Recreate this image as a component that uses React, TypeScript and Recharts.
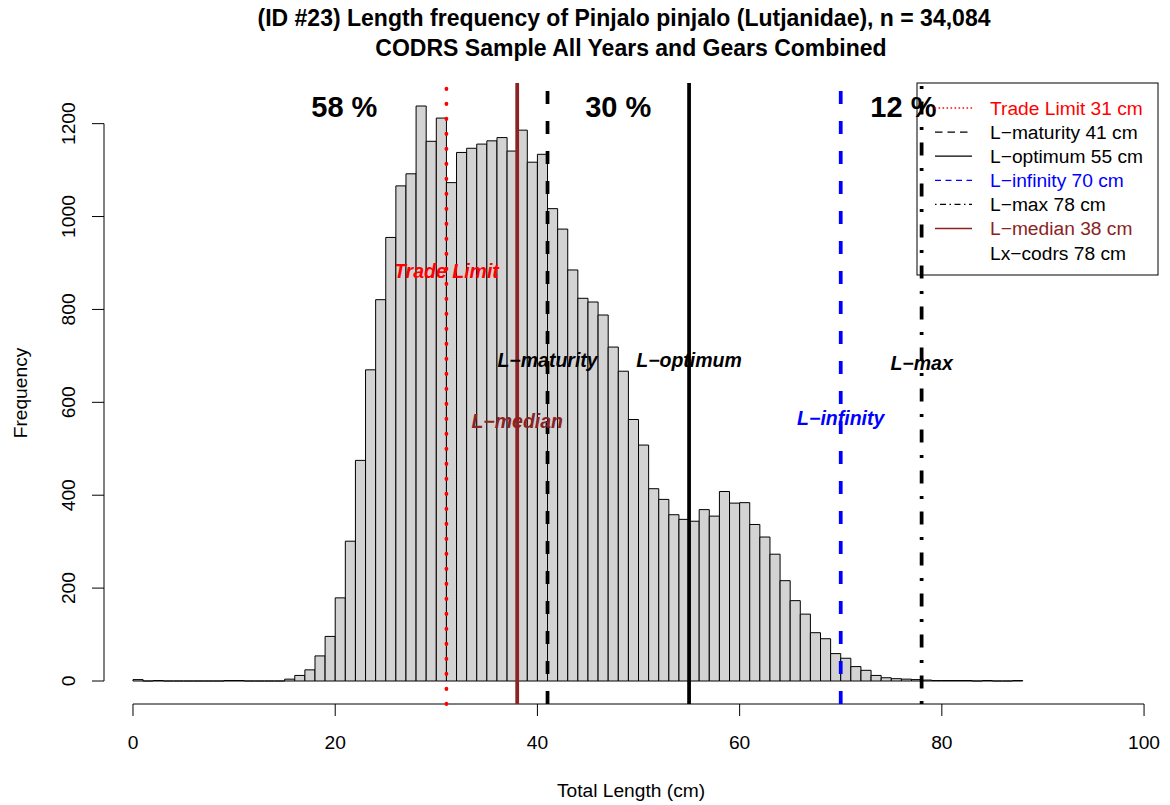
import React from 'react'
import { ComposedChart, Bar, XAxis, YAxis, ReferenceLine, ReferenceDot } from 'recharts'

const FONT = '"Liberation Sans", Arial, Helvetica, sans-serif'

// counts per 1 cm bin, bins start at 0 cm
const COUNTS = [
  3, 0, 1, 0, 0, 0, 0, 0, 0, 1,
  1, 0, 0, 0, 0, 4, 12, 24, 54, 96,
  179, 301, 475, 670, 821, 955, 1066, 1092, 1238, 1162,
  1212, 1073, 1138, 1147, 1156, 1163, 1170, 1141, 1186, 1117,
  1134, 1017, 973, 885, 824, 816, 788, 719, 667, 563,
  508, 414, 391, 358, 348, 344, 369, 355, 408, 383,
  384, 337, 310, 273, 216, 173, 144, 104, 91, 59,
  49, 31, 23, 12, 7, 5, 4, 3, 2, 1,
  1, 1, 1, 0, 1, 0, 0, 1,
]
const X_TICKS = [0, 20, 40, 60, 80, 100]
const Y_TICKS = [0, 200, 400, 600, 800, 1000, 1200]

// reference lengths (cm) and their plot labels
const MARK_NAMES = ['Trade Limit', 'L−maturity', 'L−optimum', 'L−infinity', 'L−max', 'L−median']
const MARK_CM = [31, 41, 55, 70, 78, 38]
const MARK_LABEL_Y = [882, 691, 691, 566, 685, 560]
const LEGEND_TEXT = [
  'Trade Limit 31 cm', 'L−maturity 41 cm', 'L−optimum 55 cm', 'L−infinity 70 cm',
  'L−max 78 cm', 'L−median 38 cm', 'Lx−codrs 78 cm',
]
const PCT_TEXT = ['58 %', '30 %', '12 %']
const PCT_AT = [20.9, 48, 76.2]

const RED = '#ff0000'
const BLUE = '#0000ff'
const BROWN = '#8b2323'

// line styles, same order as MARK_CM
const MARK_STYLE = [
  { color: RED, dash: '0.5 14.5', cap: 'round', legendDash: '0.6 3.4', legendCap: 'round' },
  { color: '#000', dash: '13 17', cap: 'butt', legendDash: '7.5 5', legendCap: 'butt' },
  { color: '#000', dash: undefined, cap: 'butt', legendDash: undefined, legendCap: 'butt' },
  { color: BLUE, dash: '13 17', cap: 'butt', legendDash: '6 4.5', legendCap: 'butt' },
  { color: '#000', dash: '3 12.5 13 12.5', cap: 'butt', legendDash: '1.5 3.5 6 3.5', legendCap: 'butt' },
  { color: BROWN, dash: undefined, cap: 'butt', legendDash: undefined, legendCap: 'butt' },
]
const LEGEND_COLOR = [RED, '#000', '#000', BLUE, '#000', BROWN, '#000']

const bins = COUNTS.map((n, i) => ({ mid: i + 0.5, n }))
const maxCount = Math.max(...COUNTS)
// R-style 4% padding on the y range
const Y_DOMAIN = [-0.04 * maxCount, 1.04 * maxCount]
const X_DOMAIN = [-2.868, 101.38]

function HistBar(props: any) {
  const { x, y, width, height } = props
  const top = Math.min(y, y + height)
  const bot = Math.max(y, y + height)
  return (
    <path d={`M${x},${bot}V${top}H${x + width}V${bot}Z`} fill="#d3d3d3" stroke="#000" strokeWidth={1} />
  )
}

function XTick(props: any) {
  return (
    <text x={props.x} y={748.5} textAnchor="middle" fontSize={19.2} fontFamily={FONT} fill="#000">
      {props.payload.value}
    </text>
  )
}

function YTick(props: any) {
  const y = props.y
  return (
    <text x={75} y={y} transform={`rotate(-90, 75, ${y})`} textAnchor="middle" fontSize={19.2} fontFamily={FONT} fill="#000">
      {props.payload.value}
    </text>
  )
}

function textDot(label: string, color: string, size: number, italic: boolean) {
  return (p: any) => (
    <text x={p.cx} y={p.cy} dy="0.36em" textAnchor="middle" fontSize={size} fontWeight="bold"
      fontStyle={italic ? 'italic' : 'normal'} fontFamily={FONT} fill={color}>
      {label}
    </text>
  )
}

export default function App() {
  const legendTop = 83
  const rowY = (i: number) => 108 + i * 24.1
  return (
    <div style={{ position: 'absolute', left: 0, top: 0, width: 1170, height: 805, background: '#fff' }}>
      <ComposedChart width={1170} height={805} data={bins} margin={{ top: 83, right: 12, bottom: 0, left: 0 }}>
        <XAxis
          dataKey="mid" type="number" domain={X_DOMAIN} allowDataOverflow ticks={X_TICKS}
          axisLine={false} tickLine={{ stroke: '#000', strokeWidth: 1 }} tickSize={12}
          height={101} tick={<XTick />} interval={0}
        />
        <YAxis
          type="number" domain={Y_DOMAIN} allowDataOverflow ticks={Y_TICKS}
          axisLine={false} tickLine={{ stroke: '#000', strokeWidth: 1 }} tickSize={12}
          width={104} tick={<YTick />} interval={0}
        />
        <Bar dataKey="n" barSize={10.11} shape={<HistBar />} isAnimationActive={false} />
        <ReferenceLine segment={[{ x: 0, y: Y_DOMAIN[0] }, { x: 100, y: Y_DOMAIN[0] }]} stroke="#000" strokeWidth={1} ifOverflow="visible" />
        <ReferenceLine segment={[{ x: X_DOMAIN[0], y: 0 }, { x: X_DOMAIN[0], y: 1200 }]} stroke="#000" strokeWidth={1} ifOverflow="visible" />
        {MARK_CM.map((cm, i) => (
          <ReferenceLine
            key={MARK_NAMES[i]} x={cm} stroke={MARK_STYLE[i].color} strokeWidth={3.75}
            strokeDasharray={MARK_STYLE[i].dash} strokeLinecap={MARK_STYLE[i].cap as any}
            ifOverflow="visible"
          />
        ))}
        {MARK_CM.map((cm, i) => (
          <ReferenceDot
            key={'lab' + i} x={cm} y={MARK_LABEL_Y[i]} r={0}
            shape={textDot(MARK_NAMES[i], MARK_STYLE[i].color, 19.5, true)}
          />
        ))}
        {PCT_TEXT.map((t, i) => (
          <ReferenceDot key={t} x={PCT_AT[i]} y={1236} r={0} shape={textDot(t, '#000', 29, false)} />
        ))}
      </ComposedChart>

      <svg width={1170} height={805} style={{ position: 'absolute', left: 0, top: 0, pointerEvents: 'none' }}>
        <g fontFamily={FONT} fill="#000">
          <text x={624} y={26} textAnchor="middle" fontSize={23} fontWeight="bold">
            (ID #23) Length frequency of Pinjalo pinjalo (Lutjanidae), n = 34,084
          </text>
          <text x={631} y={56} textAnchor="middle" fontSize={23} fontWeight="bold">
            CODRS Sample All Years and Gears Combined
          </text>
          <text x={631} y={797} textAnchor="middle" fontSize={19.2}>Total Length (cm)</text>
          <text x={27} y={393} transform="rotate(-90, 27, 393)" textAnchor="middle" fontSize={19.2}>Frequency</text>
        </g>
        <rect x={917} y={legendTop} width={241} height={192} fill="none" stroke="#000" strokeWidth={1} />
        {LEGEND_TEXT.map((t, i) => (
          <g key={t}>
            {i < MARK_STYLE.length && (
              <line x1={935} x2={972} y1={rowY(i)} y2={rowY(i)} stroke={MARK_STYLE[i].color} strokeWidth={1.3}
                strokeDasharray={MARK_STYLE[i].legendDash} strokeLinecap={MARK_STYLE[i].legendCap as any} />
            )}
            <text x={990} y={rowY(i)} dy="0.36em" fontSize={19.2} fontFamily={FONT} fill={LEGEND_COLOR[i]}>{t}</text>
          </g>
        ))}
      </svg>
    </div>
  )
}
